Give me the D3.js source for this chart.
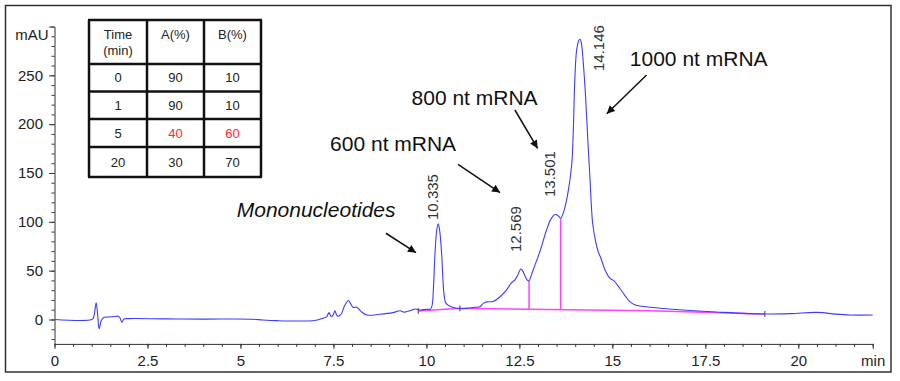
<!DOCTYPE html>
<html>
<head>
<meta charset="utf-8">
<script src="https://cdn.jsdelivr.net/npm/d3@7/dist/d3.min.js"></script>
<style>
  html, body { margin: 0; padding: 0; background: #fff; }
  svg { display: block; font-family: "Liberation Sans", Arial, sans-serif; }
</style>
</head>
<body>
<svg id="chart" width="900" height="381"></svg>
<script>
// ---------- DATA ----------
const signalTime = [0, 1.0, 1.05, 1.12, 1.16, 1.2, 1.25, 1.32, 1.45, 1.6, 1.72, 1.77, 1.81, 1.87, 2.0, 3.0, 4.0, 5.3, 5.6, 6.0, 6.5, 7.0, 7.2, 7.32, 7.38, 7.44, 7.5, 7.54, 7.6, 7.7, 7.8, 7.9, 7.95, 8.03, 8.13, 8.25, 8.4, 8.75, 9.1, 9.29, 9.4, 9.6, 9.7, 9.83, 10.0, 10.1, 10.15, 10.19, 10.23, 10.28, 10.32, 10.36, 10.41, 10.47, 10.52, 10.59, 10.7, 10.9, 11.08, 11.3, 11.44, 11.53, 11.62, 11.8, 11.98, 12.15, 12.29, 12.38, 12.45, 12.54, 12.6, 12.65, 12.72, 12.76, 12.8, 12.87, 13.05, 13.23, 13.35, 13.46, 13.55, 13.61, 13.67, 13.73, 13.82, 13.91, 13.95, 13.99, 14.04, 14.1, 14.13, 14.17, 14.22, 14.28, 14.34, 14.4, 14.47, 14.55, 14.62, 14.7, 14.8, 14.94, 15.03, 15.2, 15.35, 15.47, 15.6, 15.74, 16.0, 16.9, 17.8, 19.1, 19.8, 20.5, 21.0, 21.39, 22.0];
const signalMAU  = [0, 0, 2, 17, 5, -9.5, -2, 2, 2.5, 3, 3.3, 1, -2.8, 0.5, 0.9, 0.6, 0.4, 0.3, -0.5, -1.2, -1.6, -1.0, 1, 3, 7, 3, 5, 9, 3.6, 5, 14, 19.5, 17, 12.5, 12.5, 8, 4.6, 5.3, 7, 9, 7.5, 9.5, 10.8, 9.7, 10.5, 10.5, 14, 33, 67, 92, 98, 90, 67, 27, 17, 14.5, 12.5, 11, 11.4, 12.5, 13, 16.5, 18, 18.5, 23.3, 30, 37.7, 40.5, 45, 51.7, 49, 44.5, 40, 39.7, 43, 50.7, 69.4, 91.6, 103, 107.5, 106, 103.6, 108, 115.5, 133, 160, 194, 245, 276, 286, 287, 282, 262, 228, 184, 143, 98.5, 80, 69.4, 62, 51, 42, 40, 32, 24, 18.2, 15, 13.8, 12.5, 9.7, 7.7, 5.6, 6, 7.3, 5.5, 4.6, 4.6];

// integration baseline (magenta) and drop lines
const baselineTime = [9.78, 10.9, 16.0, 19.1];
const baselineMAU  = [8.8, 11.4, 9.0, 5.6];
const dropTime = [12.76, 13.61];
const dropMAU  = [39.7, 103.6];
const eventTime = [9.78, 10.9, 19.1];

// peak retention-time labels
const peakLabels = ["10.335", "12.569", "13.501", "14.146"];
const peakLabelT = [10.31, 12.54, 13.46, 14.78];
const peakLabelV = [101.9, 69.1, 125.4, 254.4];

// annotations
const annoText   = ["Mononucleotides", "600 nt mRNA", "800 nt mRNA", "1000 nt mRNA"];
const annoItalic = [true, false, false, false];
const annoT      = [4.90, 7.41, 9.60, 15.47];
const annoV      = [105, 172.5, 219.6, 259.5];
const arrowFromT = [8.91, 10.85, 12.38, 15.92];
const arrowFromV = [88.3, 158.7, 214.5, 250.3];
const arrowToT   = [9.72, 11.98, 12.99, 14.85];
const arrowToV   = [68.4, 130.0, 175.1, 210.7];

// axis ticks
const xMajorTicks = [0, 2.5, 5, 7.5, 10, 12.5, 15, 17.5, 20, 22];
const xTickLabels = ["0", "2.5", "5", "7.5", "10", "12.5", "15", "17.5", "20", "min"];
const yMajorTicks = [0, 50, 100, 150, 200, 250, 300];
const yTickLabels = ["0", "50", "100", "150", "200", "250", ""];
const yUnit = "mAU";

// gradient table
const tableHeader = [["Time", "(min)"], ["A(%)"], ["B(%)"]];
const tableTime = [0, 1, 5, 20];
const tableA    = [90, 90, 40, 30];
const tableB    = [10, 10, 60, 70];
const tableHighlightRow = 2;

// ---------- CHART ----------
const svg = d3.select("#chart");
const x = d3.scaleLinear().domain([0, 22]).range([54.5, 872.7]);
const y = d3.scaleLinear().domain([-25, 300]).range([343.9, 26.5]);
const textColor = "#222";

// outer frame
svg.append("rect").attr("x", 5.5).attr("y", 5.5).attr("width", 885.5).attr("height", 366.5)
  .attr("fill", "none").attr("stroke", "#333").attr("stroke-width", 1.5);

// axes
const xAxisY = y(-25);
const gx = svg.append("g").attr("transform", `translate(0,${xAxisY})`);
gx.call(d3.axisBottom(x).tickValues(d3.range(0, 22.001, 0.5)).tickSize(3).tickSizeOuter(0).tickFormat(""));
gx.call(g => g.selectAll("text").remove());
const gx2 = svg.append("g").attr("transform", `translate(0,${xAxisY})`);
gx2.call(d3.axisBottom(x).tickValues(xMajorTicks).tickSize(5).tickSizeOuter(0).tickPadding(6)
  .tickFormat((d, i) => xTickLabels[i]));
gx2.select(".domain").remove();

const gy = svg.append("g").attr("transform", `translate(${x(0)},0)`);
gy.call(d3.axisLeft(y).tickValues(d3.range(-20, 300.001, 10)).tickSize(3).tickSizeOuter(0).tickFormat(""));
const gy2 = svg.append("g").attr("transform", `translate(${x(0)},0)`);
gy2.call(d3.axisLeft(y).tickValues(yMajorTicks).tickSize(5.5).tickSizeOuter(0).tickPadding(6)
  .tickFormat((d, i) => yTickLabels[i]));
gy2.select(".domain").remove();

[gx, gx2, gy, gy2].forEach(g => {
  g.selectAll(".domain, line").attr("stroke", "#333").attr("stroke-width", 1);
  g.selectAll("text").attr("fill", textColor).style("font-size", "15px")
    .style("font-family", '"Liberation Sans", Arial, sans-serif');
});

svg.append("text").attr("x", x(0) - 6).attr("y", y(300) + 13.5).attr("text-anchor", "end")
  .attr("fill", textColor).style("font-size", "15px").text(yUnit);

// integration baseline
const baseInterp = d3.scaleLinear().domain(baselineTime).range(baselineMAU);
const line = d3.line().x(d => x(d[0])).y(d => y(d[1]));
svg.append("path").datum(baselineTime.map((t, i) => [t, baselineMAU[i]]))
  .attr("d", line).attr("fill", "none").attr("stroke", "#ff44ff").attr("stroke-width", 1.5);

// drop lines
svg.selectAll(".drop").data(dropTime).join("line").attr("class", "drop")
  .attr("x1", d => x(d)).attr("x2", d => x(d))
  .attr("y1", d => y(baseInterp(d))).attr("y2", (d, i) => y(dropMAU[i]))
  .attr("stroke", "#ff44ff").attr("stroke-width", 1.5);

// event ticks
svg.selectAll(".evt").data(eventTime).join("line").attr("class", "evt")
  .attr("x1", d => x(d)).attr("x2", d => x(d))
  .attr("y1", d => y(baseInterp(d)) - 3).attr("y2", d => y(baseInterp(d)) + 3)
  .attr("stroke", "#444").attr("stroke-width", 1);

// signal
const sigLine = d3.line().x(d => x(d[0])).y(d => y(d[1])).curve(d3.curveCatmullRom.alpha(0.5));
svg.append("path").datum(signalTime.map((t, i) => [t, signalMAU[i]]))
  .attr("d", sigLine).attr("fill", "none").attr("stroke", "#3c3cff").attr("stroke-width", 1.1);

// peak labels
svg.selectAll(".pk").data(peakLabels).join("text").attr("class", "pk")
  .attr("transform", (d, i) => `translate(${x(peakLabelT[i])},${y(peakLabelV[i])}) rotate(-90)`)
  .attr("fill", "#333").style("font-size", "15px").text(d => d);

// arrow marker
svg.append("defs").append("marker").attr("id", "ah")
  .attr("viewBox", "0 0 10 10").attr("refX", 10).attr("refY", 5)
  .attr("markerWidth", 11).attr("markerHeight", 8).attr("markerUnits", "userSpaceOnUse")
  .attr("orient", "auto")
  .append("path").attr("d", "M0,0 L10,5 L0,10 Z").attr("fill", "#111");

svg.selectAll(".arr").data(arrowFromT).join("line").attr("class", "arr")
  .attr("x1", d => x(d)).attr("y1", (d, i) => y(arrowFromV[i]))
  .attr("x2", (d, i) => x(arrowToT[i])).attr("y2", (d, i) => y(arrowToV[i]))
  .attr("stroke", "#111").attr("stroke-width", 1.5).attr("marker-end", "url(#ah)");

svg.selectAll(".anno").data(annoText).join("text").attr("class", "anno")
  .attr("x", (d, i) => x(annoT[i])).attr("y", (d, i) => y(annoV[i]))
  .attr("fill", "#111").style("font-size", "21px")
  .style("font-style", (d, i) => annoItalic[i] ? "italic" : "normal")
  .text(d => d);

// gradient table
const colX = [89, 147, 204, 261];
const rowY = [20, 64, 91.5, 119, 147, 177];
const tg = svg.append("g");
tg.append("rect").attr("x", colX[0]).attr("y", rowY[0]).attr("width", colX[3] - colX[0]).attr("height", rowY[5] - rowY[0])
  .attr("fill", "#fff");
colX.forEach(cx => tg.append("line").attr("x1", cx).attr("x2", cx).attr("y1", rowY[0]).attr("y2", rowY[5])
  .attr("stroke", "#111").attr("stroke-width", 2.5));
rowY.forEach(ry => tg.append("line").attr("x1", colX[0] - 1).attr("x2", colX[3] + 1).attr("y1", ry).attr("y2", ry)
  .attr("stroke", "#111").attr("stroke-width", 2.5));
tableHeader.forEach((lines, c) => {
  lines.forEach((s, k) => {
    tg.append("text").attr("x", (colX[c] + colX[c + 1]) / 2).attr("y", 39 + k * 16)
      .attr("text-anchor", "middle").attr("fill", textColor).style("font-size", "13px").text(s);
  });
});
const cols = [tableTime, tableA, tableB];
tableTime.forEach((_, r) => {
  cols.forEach((arr, c) => {
    const red = r === tableHighlightRow && c > 0;
    tg.append("text").attr("x", (colX[c] + colX[c + 1]) / 2).attr("y", (rowY[r + 1] + rowY[r + 2]) / 2 + 4.5)
      .attr("text-anchor", "middle").attr("fill", red ? "#ff2a2a" : textColor)
      .style("font-size", "13px").text(arr[r]);
  });
});
</script>
</body>
</html>
